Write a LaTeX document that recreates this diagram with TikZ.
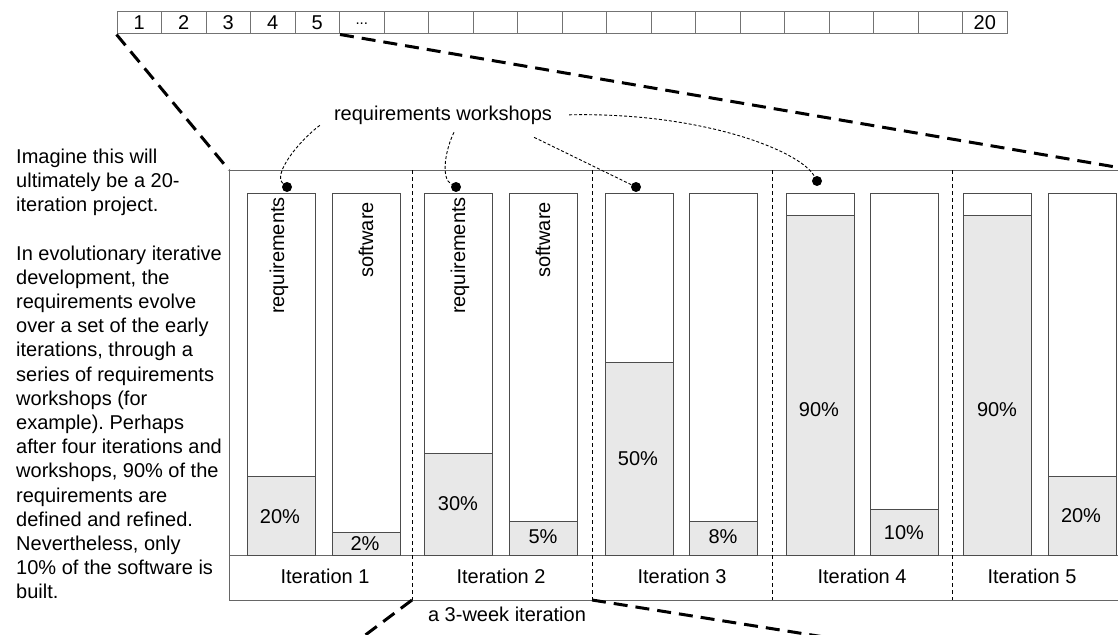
\documentclass[tikz,border=0pt]{standalone}
\usepackage{fontspec}
\setmainfont{Liberation Sans}
\frenchspacing

\begin{document}
\begin{tikzpicture}[x=1pt,y=-1pt,font=\fontsize{20}{24.2}\selectfont,
    cell/.style={draw=black!55,line width=1pt,minimum width=44.5pt,minimum height=22pt,inner sep=0pt},
    bar/.style={draw=black!70,line width=0.9pt,minimum width=68pt,minimum height=362pt,inner sep=0pt,anchor=north west},
    done/.style={draw=black!70,line width=0.9pt,fill=black!9,minimum width=68pt,inner sep=0pt,anchor=south west},
    dot/.style={circle,fill=black,inner sep=0pt,minimum size=10pt},
    zoomline/.style={line width=3pt,dash pattern=on 14pt off 8pt},
    sepline/.style={line width=1pt,dash pattern=on 4pt off 3pt},
    wsline/.style={line width=0.9pt,dash pattern=on 3pt off 2pt}]
            \path[use as bounding box,fill=white] (0,0) rectangle (1118,634);

            \node[cell] (c1) at (139.25,23) {1};
            \node[cell] (c2) at (183.75,23) {2};
            \node[cell] (c3) at (228.25,23) {3};
            \node[cell] (c4) at (272.75,23) {4};
            \node[cell] (c5) at (317.25,23) {5};
            \node[cell,font=\fontsize{15}{18}\selectfont] (c6) at (361.75,23) {\raisebox{-4pt}{...}};
            \node[cell] (c7) at (406.25,23) {};
            \node[cell] (c8) at (450.75,23) {};
            \node[cell] (c9) at (495.25,23) {};
            \node[cell] (c10) at (539.75,23) {};
            \node[cell] (c11) at (584.25,23) {};
            \node[cell] (c12) at (628.75,23) {};
            \node[cell] (c13) at (673.25,23) {};
            \node[cell] (c14) at (717.75,23) {};
            \node[cell] (c15) at (762.25,23) {};
            \node[cell] (c16) at (806.75,23) {};
            \node[cell] (c17) at (851.25,23) {};
            \node[cell] (c18) at (895.75,23) {};
            \node[cell] (c19) at (940.25,23) {};
            \node[cell] (c20) at (984.75,23) {20};

            \node[draw=black!60,line width=1pt,minimum width=903pt,minimum height=430pt,inner sep=0pt,anchor=north west] (frame) at (229,170) {};
            \draw[black!60,line width=1pt] (229,555) -- (1132,555);
            \draw[sepline] (412,170) -- (412,600);
            \draw[sepline] (592,170) -- (592,600);
            \draw[sepline] (772,170) -- (772,600);
            \draw[sepline] (952,170) -- (952,600);
            \coordinate (s1) at (412,600);
            \coordinate (s2) at (592,600);
            \coordinate (low1) at (332,660);
            \coordinate (low2) at (1000,665);

            \node[bar] (req1) at (247,193) {};
            \node[bar] (sw1) at (332,193) {};
            \node[bar] (req2) at (424,193) {};
            \node[bar] (sw2) at (509,193) {};
            \node[bar] (req3) at (605,193) {};
            \node[bar] (sw3) at (689,193) {};
            \node[bar] (req4) at (786,193) {};
            \node[bar] (sw4) at (870,193) {};
            \node[bar] (req5) at (963,193) {};
            \node[bar] (sw5) at (1048,193) {};

            \node[done,minimum height=79pt] at (req1.south west) {};
            \node[done,minimum height=23pt] at (sw1.south west) {};
            \node[done,minimum height=102pt] at (req2.south west) {};
            \node[done,minimum height=34pt] at (sw2.south west) {};
            \node[done,minimum height=193pt] at (req3.south west) {};
            \node[done,minimum height=34pt] at (sw3.south west) {};
            \node[done,minimum height=340pt] at (req4.south west) {};
            \node[done,minimum height=46pt] at (sw4.south west) {};
            \node[done,minimum height=340pt] at (req5.south west) {};
            \node[done,minimum height=79pt] at (sw5.south west) {};

            \node (p1) at (280,517) {20\%};
            \node (q1) at (365,544) {2\%};
            \node (p2) at (458,504) {30\%};
            \node (q2) at (543,537) {5\%};
            \node (p3) at (638,459) {50\%};
            \node (q3) at (723,537) {8\%};
            \node (p4) at (819,410) {90\%};
            \node (q4) at (904,533) {10\%};
            \node (p5) at (997,410) {90\%};
            \node (q5) at (1081,516) {20\%};

            \node[rotate=90,anchor=east,inner sep=0pt] (rt1) at (279,197) {requirements};
            \node[rotate=90,anchor=east,inner sep=0pt] (st1) at (366,202) {software};
            \node[rotate=90,anchor=east,inner sep=0pt] (rt2) at (460,197) {requirements};
            \node[rotate=90,anchor=east,inner sep=0pt] (st2) at (543,202) {software};

            \node (it1) at (325,576) {Iteration 1};
            \node (it2) at (501,576) {Iteration 2};
            \node (it3) at (682,576) {Iteration 3};
            \node (it4) at (862,576) {Iteration 4};
            \node (it5) at (1032,576) {Iteration 5};
            \node (week) at (507,614) {a 3-week iteration};

            \draw[zoomline] (c1.south west) -- (frame.north west);
            \draw[zoomline] (c5.south east) -- (frame.north east);
            \draw[zoomline] (s1) -- (low1);
            \draw[zoomline] (s2) -- (low2);

            \node[anchor=base,inner sep=0pt] (wstext) at (443,120) {requirements workshops};
            \node[dot] (ws1) at (287,187) {};
            \node[dot] (ws2) at (456,187) {};
            \node[dot] (ws3) at (636,187) {};
            \node[dot] (ws4) at (817,181) {};
            \draw[wsline] ([xshift=-14pt,yshift=-1pt]wstext.south west) .. controls (300,140) and (272,174) .. (ws1);
            \draw[wsline] ([xshift=11pt,yshift=-8pt]wstext.south) .. controls (446,148) and (440,178) .. (ws2);
            \draw[wsline] ([xshift=-18pt,yshift=-13pt]wstext.south east) -- (ws3);
            \draw[wsline] ([xshift=17pt]wstext.east) .. controls (700,112) and (800,150) .. (ws4);

            \node[anchor=north west,align=left,inner sep=0pt] (note) at (16,148.5) {Imagine this will\\ultimately be a 20-\\iteration project.\\[24.2pt]In evolutionary iterative\\development, the\\requirements evolve\\over a set of the early\\iterations, through a\\series of requirements\\workshops (for\\example). Perhaps\\after four iterations and\\workshops, 90\% of the\\requirements are\\defined and refined.\\Nevertheless, only\\10\% of the software is\\built.};
          \end{tikzpicture}
\end{document}
